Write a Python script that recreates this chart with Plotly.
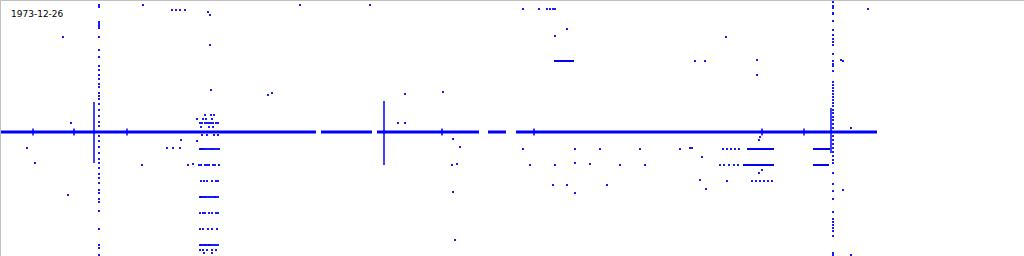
import plotly.graph_objects as go

BLUE = "#0000ff"
TITLE = "1973-12-26"

# main horizontal trace (gaps as None)
main_x = [0, 316, None, 321, 372, None, 377, 479, None, 488, 506, None, 516, 877]
main_y = [132, 132, None, 132, 132, None, 132, 132, None, 132, 132, None, 132, 132]

# short tick marks on the main line
tick_x = [33, 74, 127, 442, 534, 762, 804]
tick_half = 3.5

# solid vertical segments (x, y_top, y_bottom)
vseg_x = [94, 384, 831]
vseg_top = [102, 101, 108]
vseg_bot = [163, 165, 153]

# dense horizontal segments (y, x_start, x_end)
hseg_y = [149, 165, 149, 165, 61]
hseg_x0 = [747, 743, 813, 813, 554]
hseg_x1 = [774, 774, 830, 829, 574]

# dotted vertical columns
col1_x = 99
col1_y = [0, 5, 7, 22, 24, 26, 28, 37, 50, 57, 66, 70, 75, 79, 84, 87, 93, 96,
          99, 104, 110, 116, 122, 126, 136, 141, 147, 153, 159, 163,
          168, 174, 178, 183, 190, 193, 199, 202, 211, 229, 245, 248, 255]
col2_x = 833
col2_y = [2, 6, 8, 13, 14, 21, 30, 35, 39, 42, 45, 54, 61, 64, 66, 71, 82, 85, 88, 91, 94, 97,
          100, 103, 106, 110, 113, 117, 120, 124, 128, 136, 140, 144, 148, 152, 156, 160, 163,
          173, 184, 191, 199, 212, 219, 222, 225, 228, 231, 236, 253, 255]

# dot rows in the cluster near x~210
cluster_rows = {
    115: [205, 211, 214],
    119: [203, 206, 212],
    123: [200, 202, 205, 207, 209, 211, 213, 216, 218],
    127: [201, 209, 213],
    135: [202, 207, 214, 218],
    149: [200, 201, 202, 203, 205, 206, 208, 210, 212, 213, 215, 217, 219],
    165: [199, 201, 205, 207, 209, 213, 215, 219],
    181: [201, 204, 207, 212, 216, 218],
    197: [200, 201, 202, 204, 205, 207, 209, 211, 213, 215, 216, 218],
    213: [200, 203, 205, 209, 212, 216, 218],
    229: [200, 203, 208, 212, 217],
    245: [200, 201, 202, 204, 205, 206, 208, 209, 210, 212, 214, 216, 218],
    250: [200, 203, 207, 212, 216],
    253: [204, 212],
}

# scattered isolated dots
dots_x = [63, 71, 27, 35, 68, 142, 167, 173, 180, 181, 197, 197, 188, 193, 172, 176, 180, 185,
          208, 210, 210, 211, 143, 268, 272, 300, 370, 405, 398, 405, 453, 452, 457, 460, 453,
          455, 443, 523, 539, 547, 550, 553, 555, 567, 555, 726, 695, 705, 760, 759, 690, 692,
          702, 723, 727, 731, 735, 739, 720, 724, 729, 734, 738, 762, 759, 700, 727, 752, 756,
          760, 764, 768, 772, 706, 843, 868, 841, 843, 851, 851, 523, 575, 600, 640, 680, 555,
          575, 590, 620, 645, 553, 567, 575, 607, 530, 757, 757]
dots_y = [37, 123, 148, 163, 195, 165, 148, 148, 148, 140, 119, 141, 165, 164, 10, 10, 10, 10,
          12, 15, 45, 90, 5, 95, 93, 5, 5, 94, 123, 123, 139, 165, 164, 147, 192, 240, 92, 9, 9,
          9, 9, 9, 9, 29, 36, 37, 61, 61, 137, 140, 148, 148, 157, 149, 149, 149, 149, 149, 165,
          165, 165, 165, 165, 170, 173, 180, 181, 181, 181, 181, 181, 181, 181, 189, 190, 9, 60,
          61, 128, 255, 149, 149, 149, 149, 149, 165, 163, 164, 165, 165, 185, 185, 193, 185,
          165, 60, 75]

fig = go.Figure()

fig.add_trace(go.Scatter(x=main_x, y=main_y, mode="lines",
                         line=dict(color=BLUE, width=3), hoverinfo="skip"))

tx, ty = [], []
for x in tick_x:
    tx += [x, x, None]
    ty += [132 - tick_half, 132 + tick_half, None]
fig.add_trace(go.Scatter(x=tx, y=ty, mode="lines", line=dict(color=BLUE, width=1.5)))

vx, vy = [], []
for x, a, b in zip(vseg_x, vseg_top, vseg_bot):
    vx += [x, x, None]
    vy += [a, b, None]
fig.add_trace(go.Scatter(x=vx, y=vy, mode="lines", line=dict(color=BLUE, width=1.5)))

hx, hy = [], []
for y, a, b in zip(hseg_y, hseg_x0, hseg_x1):
    hx += [a, b, None]
    hy += [y, y, None]
fig.add_trace(go.Scatter(x=hx, y=hy, mode="lines", line=dict(color=BLUE, width=2)))

px = [col1_x] * len(col1_y) + [col2_x] * len(col2_y) + dots_x
py = col1_y + col2_y + dots_y
for y, xs in cluster_rows.items():
    px += xs
    py += [y] * len(xs)
fig.add_trace(go.Scatter(x=px, y=py, mode="markers",
                         marker=dict(color=BLUE, size=1.8, symbol="square", line=dict(width=0))))

fig.add_annotation(text=TITLE, xref="paper", yref="paper", x=0.0075, y=0.975,
                   xanchor="left", yanchor="top", showarrow=False,
                   font=dict(family="DejaVu Sans", size=9, color="black"))

fig.update_layout(
    width=1024, height=256, showlegend=False,
    margin=dict(l=1, r=0, t=1, b=0),
    paper_bgcolor="white", plot_bgcolor="white",
    xaxis=dict(range=[1, 1024], showgrid=False, zeroline=False, showticklabels=False,
               ticks="", showline=True, linecolor="#c0c0c0", linewidth=1, side="top"),
    yaxis=dict(range=[256, 1], showgrid=False, zeroline=False, showticklabels=False,
               ticks="", showline=True, linecolor="#c0c0c0", linewidth=1),
)

fig.write_html("out.html", config={"displayModeBar": False})
